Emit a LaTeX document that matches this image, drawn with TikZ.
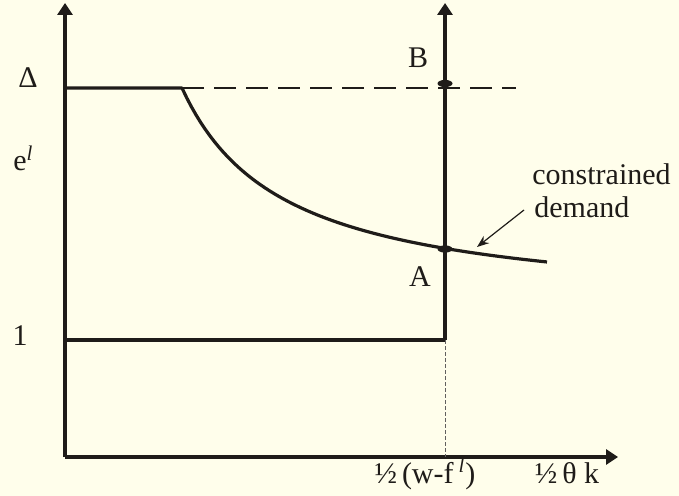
\documentclass[tikz,border=0pt]{standalone}
\usepackage{fontspec}
\setmainfont{Liberation Serif}
\usetikzlibrary{arrows.meta,shapes.geometric}
\definecolor{ink}{rgb}{0.12,0.11,0.10}
\begin{document}
\begin{tikzpicture}[x=0.5pt,y=-0.5pt,
  thick line/.style={draw=ink,line width=1.6pt},
  axis arrow/.style={thick line,-{Triangle[length=6pt,width=7.5pt]}},
  lab/.style={font=\fontsize{15}{18}\selectfont,text=ink,inner sep=0pt},
  dotpt/.style={fill=ink,ellipse,minimum width=7.5pt,minimum height=3.6pt,inner sep=0pt}]
\path[fill=yellow!8!white] (0,0) rectangle (679,496);
\useasboundingbox (0,0) rectangle (679,496);
% key coordinates
\coordinate (O) at (65,457);
\coordinate (ytop) at (65,3);
\coordinate (xend) at (618,457);
\coordinate (D0) at (65,88);
\coordinate (Dk) at (182,88);
\coordinate (Dend) at (516,88);
\coordinate (L0) at (65,340);
\coordinate (Lk) at (445,340);
\coordinate (vtop) at (445,3);
\coordinate (vfoot) at (445,457);
% axes
\draw[axis arrow] (O) -- (ytop);
\draw[axis arrow] (O) -- (xend);
% thin dotted guide
\draw[draw=ink!70,line width=0.5pt,dash pattern=on 2pt off 1pt] (Lk) -- (vfoot);
% dashed Delta line
\draw[draw=ink,line width=1.2pt,dash pattern=on 11pt off 5pt] (Dk) -- (Dend);
% Delta plateau and demand curve
\draw[thick line,line join=round] (D0) -- (Dk)
  -- plot[domain=182:547,samples=80] (\x,{310.6-227.07/((\x-80)/100)});
% lower line and vertical supply
\draw[thick line,line join=miter] (L0) -- (Lk);
\draw[axis arrow] (Lk) -- (vtop);
% points
\node[dotpt] (Bpt) at (445,83.5) {};
\node[dotpt] (Apt) at (445,249) {};
% labels
\node[lab,anchor=base] (Delta) at (28,88) {Δ};
\node[lab,anchor=base west] (el) at (13,171) {e\textsuperscript{\textit{l}}};
\node[lab,anchor=base] (one) at (20,345) {1};
\node[lab,anchor=base] (B) at (418,68) {B};
\node[lab,anchor=base] (A) at (420,287) {A};
\node[lab,anchor=base west] (c1) at (532,185) {constrained};
\node[lab,anchor=base west] (c2) at (534,218) {demand};
\coordinate (arrstart) at (524,210);
\coordinate (arrend) at (477,247);
\draw[draw=ink,line width=0.6pt,-{Stealth[length=6pt,width=4.5pt]}] (arrstart) -- (arrend);
\node[lab,anchor=base] (xl1) at (425,483) {½\,(w-f\,\textsuperscript{\textit{l}})};
\node[lab,anchor=base] (xl2) at (567,483) {½\,θ k};
\end{tikzpicture}
\end{document}
